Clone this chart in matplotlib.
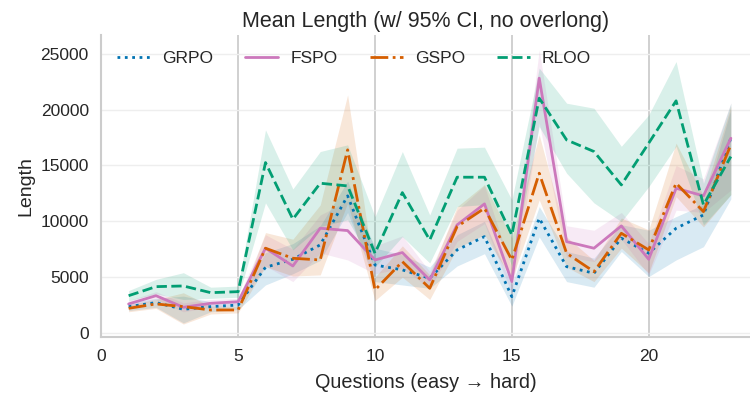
import numpy as np
import matplotlib
matplotlib.use("Agg")
import matplotlib.pyplot as plt
import seaborn as sns

questions = np.arange(1, 24)

grpo_mean = [2360, 2720, 2120, 2360, 2500, 5880, 6600, 7890, 12280, 6090, 5650, 4900,
             7440, 8630, 3250, 10280, 5940, 5350, 8490, 7140, 9380, 10570, 17440]
grpo_lo = [2000, 2300, 900, 1900, 2100, 4300, 5300, 6500, 10800, 4600, 4300, 4000,
           6000, 7100, 2400, 8600, 4600, 4100, 7300, 5050, 6540, 7730, 12000]
grpo_hi = [2700, 3100, 3300, 2800, 2900, 7200, 8000, 9600, 13600, 7600, 7000, 5900,
           8800, 10000, 4300, 11320, 7300, 6700, 9700, 9200, 10420, 11500, 20000]

fspo_mean = [2600, 3340, 2300, 2660, 2800, 7590, 6000, 9380, 9170, 6540, 7200, 4750,
             9680, 11560, 4600, 22820, 8180, 7590, 9590, 6600, 12960, 12280, 17440]
fspo_lo = [2300, 3000, 1900, 2300, 2500, 6000, 4600, 7170, 6540, 5300, 5800, 4000,
           8200, 9800, 3500, 18800, 6800, 6400, 8400, 5200, 11000, 10800, 12800]
fspo_hi = [2900, 3700, 2700, 3000, 3100, 8800, 7500, 10570, 11800, 7800, 8700, 5500,
           11000, 13200, 5700, 25360, 9600, 9200, 10800, 8000, 15000, 13800, 20600]

gspo_mean = [2210, 2600, 2360, 2060, 2060, 7590, 6690, 6540, 16400, 3850, 6390, 4000,
             9530, 11170, 6540, 14310, 7140, 5490, 8930, 7440, 13410, 10870, 16850]
gspo_lo = [1900, 2200, 800, 1700, 1800, 5940, 5100, 5200, 11650, 2900, 5000, 3000,
           7600, 8800, 4800, 11920, 5900, 4600, 7600, 5380, 12210, 9500, 12400]
gspo_hi = [2500, 3000, 3600, 2400, 2400, 8990, 8400, 11470, 21330, 5000, 7800, 5200,
           11300, 13300, 8500, 17740, 8600, 6500, 10300, 9230, 17000, 12300, 20300]

rloo_mean = [3340, 4150, 4210, 3610, 3700, 15260, 10190, 13410, 13170, 7140, 12570, 8330,
             13950, 13950, 8780, 21030, 17290, 16250, 13260, 17000, 20790, 11470, 15800]
rloo_lo = [2900, 3500, 3000, 3100, 3200, 11650, 7440, 9530, 10130, 5900, 8630, 6270,
           11320, 11500, 6000, 18490, 14310, 11650, 9970, 13100, 16720, 9680, 12370]
rloo_hi = [3800, 4800, 5400, 4100, 4200, 18190, 12900, 16250, 16850, 10420, 16250, 10570,
           16550, 16640, 11920, 23720, 20580, 20130, 16720, 19530, 24310, 13410, 20580]

series = [
    ("GRPO", grpo_mean, grpo_lo, grpo_hi, "#0173b2", ":"),
    ("FSPO", fspo_mean, fspo_lo, fspo_hi, "#cc78bc", "-"),
    ("GSPO", gspo_mean, gspo_lo, gspo_hi, "#d55e00", "-."),
    ("RLOO", rloo_mean, rloo_lo, rloo_hi, "#029e73", "--"),
]

sns.set_theme(style="whitegrid")
plt.rcParams["font.family"] = ["Liberation Sans", "DejaVu Sans"]

fig = plt.figure(figsize=(7.5, 3.96), dpi=100)
ax = fig.add_axes([0.135, 0.149, 0.865, 0.763])

for name, mean, lo, hi, color, ls in series:
    ax.fill_between(questions, lo, hi, color=color, alpha=0.15, linewidth=0)
    ax.plot(questions, mean, ls, color=color, linewidth=2, label=name)

# section separators
for xv in [5, 10, 15, 20]:
    ax.axvline(xv, color="#c8c8c8", linewidth=1.2, zorder=0)

ax.grid(axis="x", visible=False)
ax.grid(axis="y", color="#eeeeee", linewidth=1)
ax.set_xlim(0, 23.7)
ax.set_ylim(-360, 26700)
ax.set_xticks([0, 5, 10, 15, 20])
ax.set_yticks([0, 5000, 10000, 15000, 20000, 25000])
ax.tick_params(labelsize=12.5, colors="#262626", pad=3)
for s in ["top", "right"]:
    ax.spines[s].set_visible(False)
for s in ["left", "bottom"]:
    ax.spines[s].set_color("#cccccc")
    ax.spines[s].set_linewidth(1.5)

ax.set_title("Mean Length (w/ 95% CI, no overlong)", fontsize=15.5, color="#262626", pad=6)
ax.set_xlabel("Questions (easy \u2192 hard)", fontsize=14.3, color="#262626", labelpad=6)
ax.set_ylabel("Length", fontsize=14, color="#262626", labelpad=4)
ax.legend(loc="upper left", ncol=4, frameon=False, fontsize=12.5,
          handlelength=1.9, handletextpad=0.7, columnspacing=1.85,
          bbox_to_anchor=(0.0, 1.0))

fig.savefig("out.png", dpi=100)
